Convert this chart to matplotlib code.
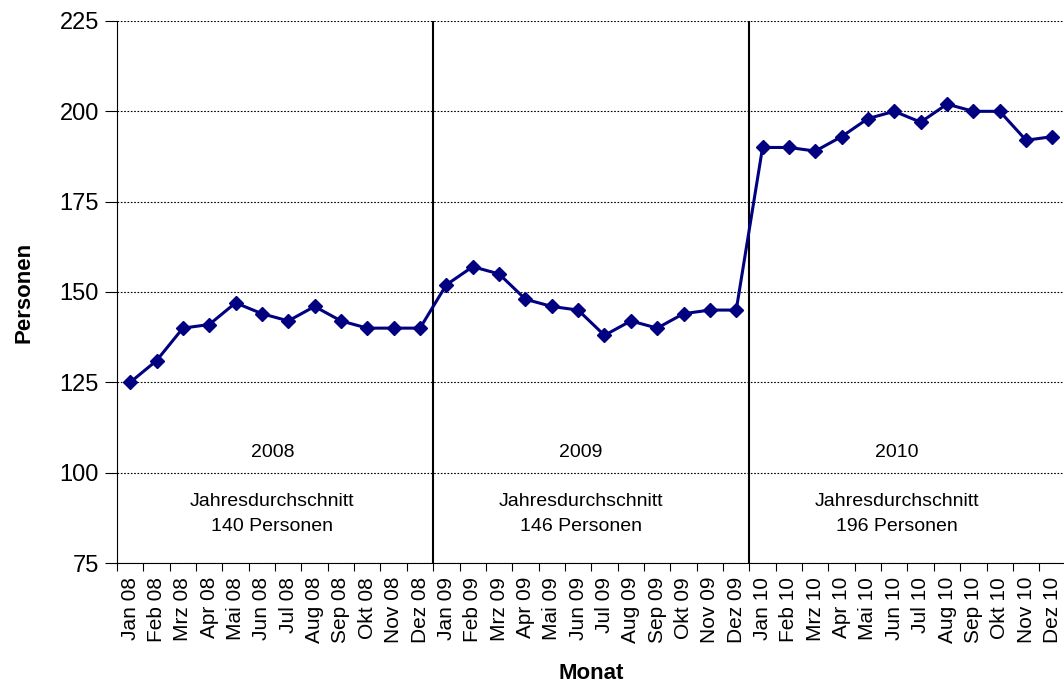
import matplotlib.pyplot as plt
import numpy as np

plt.rcParams['font.family'] = ['Liberation Sans', 'DejaVu Sans']

# Monate und Personenzahlen
months = ['Jan', 'Feb', 'Mrz', 'Apr', 'Mai', 'Jun',
          'Jul', 'Aug', 'Sep', 'Okt', 'Nov', 'Dez']
years = ['08', '09', '10']
labels = [m + ' ' + y for y in years for m in months]

persons_2008 = [125, 131, 140, 141, 147, 144, 142, 146, 142, 140, 140, 140]
persons_2009 = [152, 157, 155, 148, 146, 145, 138, 142, 140, 144, 145, 145]
persons_2010 = [190, 190, 189, 193, 198, 200, 197, 202, 200, 200, 192, 193]
persons = persons_2008 + persons_2009 + persons_2010

year_names = ['2008', '2009', '2010']
year_avg = [140, 146, 196]

fig = plt.figure(figsize=(10.64, 6.87), dpi=100)
ax = fig.add_axes([117 / 1064, 124 / 687, 948.6 / 1064, 542 / 687])

x = np.arange(len(persons))
ax.plot(x, persons, color='#000080', lw=2.2, marker='D', ms=7.5, zorder=3)

ax.set_xlim(-0.5, len(persons) - 0.5)
ax.set_ylim(75, 225)
ax.set_yticks(np.arange(75, 226, 25))
ax.yaxis.grid(True, linestyle=(0, (1.5, 1.5)), color='black', lw=0.8)

# Ticks an den Monatsgrenzen, Beschriftung in der Mitte
ax.set_xticks(np.arange(-0.5, len(persons), 1))
ax.set_xticklabels([])
ax.set_xticks(x, minor=True)
ax.set_xticklabels(labels, minor=True, rotation=90)
ax.tick_params(axis='x', which='major', length=6, direction='out')
ax.tick_params(axis='x', which='minor', length=0, labelsize=15, pad=10)
ax.tick_params(axis='y', length=9, labelsize=17, pad=4)

ax.spines['top'].set_visible(False)
ax.spines['right'].set_visible(False)

# Jahrestrenner
for b in [11.5, 23.5]:
    ax.axvline(b, color='black', lw=1.5, zorder=2)

text_x = [5.4, 17.1, 29.1]
for tx, name, avg in zip(text_x, year_names, year_avg):
    ax.text(tx, 105.7, name, ha='center', va='center', fontsize=14)
    ax.text(tx, 91.9, 'Jahresdurchschnitt', ha='center', va='center', fontsize=14)
    ax.text(tx, 85.0, '%d Personen' % avg, ha='center', va='center', fontsize=14)

ax.set_ylabel('Personen', fontsize=16, fontweight='bold', labelpad=18)
ax.set_xlabel('Monat', fontsize=16, fontweight='bold', labelpad=14)

plt.savefig('out.png', dpi=100)
